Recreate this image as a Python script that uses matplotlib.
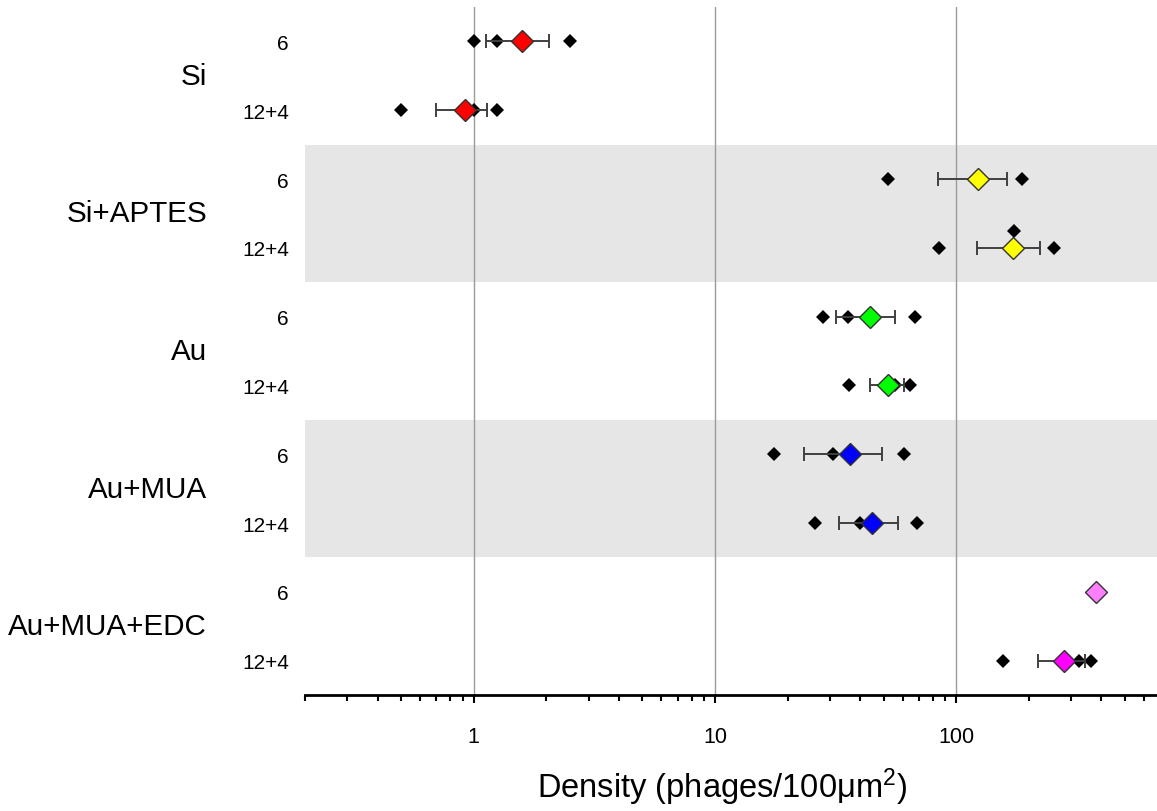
import matplotlib
matplotlib.use("Agg")
import matplotlib.pyplot as plt
from matplotlib.ticker import FixedLocator, NullFormatter

plt.rcParams['font.family'] = ['Liberation Sans', 'DejaVu Sans']
plt.rcParams['mathtext.fontset'] = 'custom'
plt.rcParams['mathtext.rm'] = 'Liberation Sans'
plt.rcParams['mathtext.it'] = 'Liberation Sans'

# ---------------- data ----------------
groups = ["Si", "Si+APTES", "Au", "Au+MUA", "Au+MUA+EDC"]
subgroups = ["6", "12+4"]
row_labels = ["6", "12+4"] * 5

# individual measurements per row (top to bottom)
points_si_6 = [1.0, 1.25, 2.5]
points_si_12 = [0.5, 1.0, 1.25]
points_aptes_6 = [52, 128, 188]
points_aptes_12 = [85, 174, 255]
points_au_6 = [28, 35.6, 67.6]
points_au_12 = [35.8, 56, 64.5]
points_mua_6 = [17.5, 31, 61]
points_mua_12 = [26.1, 40, 68.8]
points_edc_6 = []
points_edc_12 = [156, 323, 362]
row_points = [points_si_6, points_si_12, points_aptes_6, points_aptes_12,
              points_au_6, points_au_12, points_mua_6, points_mua_12,
              points_edc_6, points_edc_12]

means = [1.59, 0.92, 123, 172, 43.8, 52.2, 36.4, 45.0, 380, 281]
errors = [0.47, 0.22, 39, 50, 12.0, 8.4, 12.9, 12.4, 0, 62]
mean_colors = ["#FF0000", "#FF0000", "#FFFF00", "#FFFF00", "#00FF00", "#00FF00",
               "#0000FF", "#0000FF", "#FF80FF", "#FF00FF"]

major_ticks = [1, 10, 100]
major_labels = ["1", "10", "100"]

# ---------------- figure ----------------
fig = plt.figure(figsize=(11.57, 8.12), dpi=100)
ax = fig.add_axes([305 / 1157, 1 - 696 / 812, 1 - 305 / 1157, (696 - 8) / 812])

ax.set_xscale('log')
ax.set_xlim(0.2, 680)
ax.set_ylim(9.5, -0.5)

# grey bands for alternate groups
for gi in range(len(groups)):
    if gi % 2 == 1:
        ax.axhspan(2 * gi - 0.5, 2 * gi + 1.5, color="#E6E6E6", lw=0, zorder=0)

# vertical grid lines
for t in major_ticks:
    ax.axvline(t, color="#9A9A9A", lw=1.0, zorder=1)

# jitter for overlapping points (row, index) -> y shift
jitter = {(3, 1): -0.25}

for r, pts in enumerate(row_points):
    ys = [r + jitter.get((r, i), 0) for i in range(len(pts))]
    ax.plot(pts, ys, linestyle='none', marker='D', markersize=6.8,
            color='black', markeredgewidth=0, zorder=3)
    if errors[r] > 0:
        ax.errorbar([means[r]], [r], xerr=[errors[r]], fmt='none',
                    ecolor="#404040", elinewidth=1.4, capsize=4.7,
                    capthick=1.4, zorder=4)
    ax.plot([means[r]], [r], linestyle='none', marker='D', markersize=11.2,
            markerfacecolor=mean_colors[r], markeredgecolor="#333333",
            markeredgewidth=1.0, zorder=5)

# y axis labels
ax.set_yticks(range(len(row_labels)))
ax.set_yticklabels(row_labels, fontsize=15)
ax.tick_params(axis='y', length=0, pad=11.5)

for gi, g in enumerate(groups):
    ax.text(-0.115, 2 * gi + 0.5, g, transform=ax.get_yaxis_transform(),
            ha='right', va='center', fontsize=21.3)

# x axis
ax.xaxis.set_major_locator(FixedLocator(major_ticks))
ax.set_xticklabels(major_labels)
minor = [m * d for d in (0.1, 1, 10, 100) for m in range(2, 10) if 0.2 <= m * d <= 680]
ax.xaxis.set_minor_locator(FixedLocator(minor))
ax.xaxis.set_minor_formatter(NullFormatter())
ax.tick_params(axis='x', which='major', direction='out', length=6, width=1.5,
               labelsize=15.5, pad=16)
ax.tick_params(axis='x', which='minor', direction='out', length=4, width=1.5)

for s in ['top', 'right', 'left']:
    ax.spines[s].set_visible(False)
ax.spines['bottom'].set_linewidth(2)

ax.set_xlabel(r"Density (phages/100μm$^{2}$)", fontsize=23.5)
ax.xaxis.set_label_coords(0.49, -0.102)

fig.savefig("out.png", dpi=100)
